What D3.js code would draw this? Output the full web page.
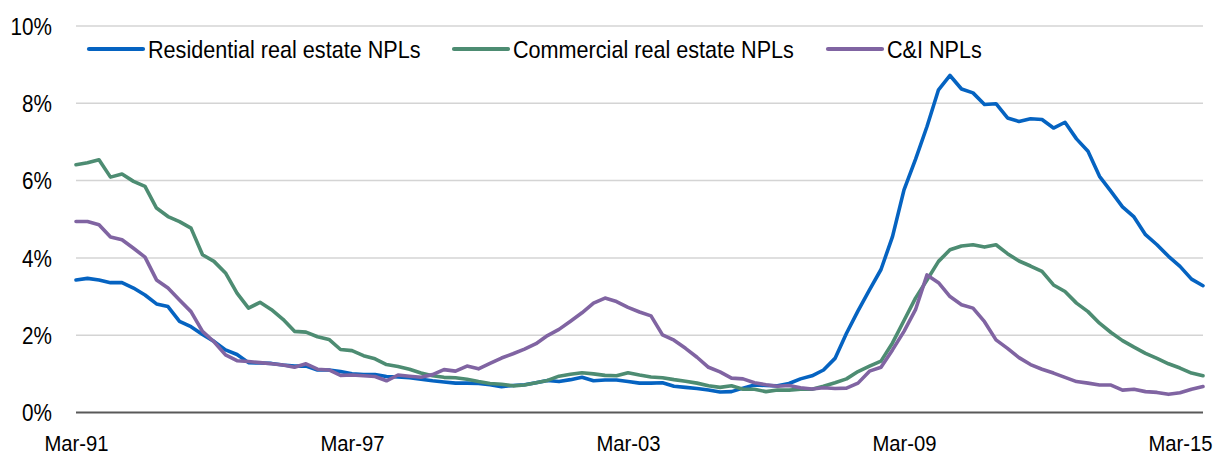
<!DOCTYPE html>
<html><head><meta charset="utf-8">
<script src="https://cdn.jsdelivr.net/npm/d3@7"></script>
<style>
body{margin:0;background:#fff}
svg{display:block}
text{font-family:"Liberation Sans",Arial,sans-serif;fill:#000}
</style>
</head><body><svg id="chart" width="1218" height="456"></svg>
<script>
// Quarterly categories Mar-91 .. Sep-15
const months = ["Mar","Jun","Sep","Dec"];
const quarters = [];
for (let yr = 1991; yr <= 2015; yr++) {
  for (const m of months) {
    if (yr === 2015 && m === "Dec") break;
    quarters.push(m + "-" + String(yr % 100).padStart(2, "0"));
  }
}
const tickLabels = ["Mar-91","Mar-97","Mar-03","Mar-09","Mar-15"];
const yTicks = [0,2,4,6,8,10];
const seriesNames = ["Residential real estate NPLs","Commercial real estate NPLs","C&I NPLs"];
const seriesColors = ["#0563c1","#4d8c72","#8064a2"];

const residential = [3.43,3.47,3.43,3.36,3.36,3.22,3.04,2.81,2.74,2.36,
  2.22,2.02,1.84,1.62,1.50,1.29,1.28,1.27,1.23,1.20,
  1.20,1.10,1.10,1.06,1.00,0.98,0.98,0.93,0.92,0.90,
  0.86,0.82,0.79,0.76,0.76,0.75,0.72,0.67,0.70,0.72,
  0.77,0.83,0.80,0.85,0.91,0.82,0.84,0.84,0.80,0.76,
  0.76,0.77,0.68,0.65,0.62,0.58,0.53,0.54,0.63,0.71,
  0.70,0.69,0.75,0.87,0.95,1.10,1.40,2.05,2.63,3.17,
  3.70,4.55,5.76,6.55,7.40,8.35,8.72,8.37,8.27,7.97,
  7.99,7.62,7.53,7.60,7.58,7.36,7.51,7.08,6.76,6.11,
  5.72,5.32,5.06,4.60,4.34,4.04,3.78,3.45,3.28];

const commercial = [6.41,6.46,6.54,6.09,6.17,5.98,5.85,5.29,5.07,4.94,
  4.77,4.08,3.91,3.61,3.09,2.70,2.85,2.66,2.41,2.10,
  2.08,1.96,1.89,1.63,1.60,1.47,1.39,1.24,1.19,1.12,
  1.02,0.95,0.91,0.90,0.86,0.80,0.75,0.73,0.69,0.71,
  0.77,0.83,0.94,0.99,1.03,1.00,0.96,0.95,1.03,0.97,
  0.92,0.90,0.85,0.81,0.76,0.69,0.65,0.69,0.60,0.60,
  0.54,0.58,0.58,0.60,0.60,0.68,0.77,0.87,1.06,1.20,
  1.33,1.80,2.38,2.96,3.43,3.91,4.21,4.31,4.34,4.28,
  4.34,4.11,3.92,3.79,3.65,3.30,3.13,2.83,2.61,2.31,
  2.07,1.86,1.69,1.53,1.40,1.26,1.15,1.02,0.95];

const cni = [4.94,4.94,4.86,4.54,4.47,4.25,4.02,3.43,3.22,2.91,
  2.61,2.10,1.83,1.49,1.34,1.32,1.29,1.26,1.23,1.17,
  1.26,1.12,1.10,0.96,0.97,0.95,0.93,0.82,0.97,0.94,
  0.91,0.98,1.11,1.07,1.20,1.13,1.27,1.41,1.52,1.64,
  1.78,1.99,2.15,2.36,2.58,2.83,2.96,2.87,2.72,2.60,
  2.50,2.01,1.87,1.66,1.43,1.17,1.05,0.89,0.87,0.77,
  0.72,0.68,0.70,0.64,0.61,0.64,0.62,0.63,0.76,1.07,
  1.17,1.62,2.10,2.66,3.56,3.36,3.00,2.79,2.70,2.35,
  1.88,1.66,1.42,1.24,1.12,1.02,0.91,0.80,0.76,0.71,
  0.71,0.58,0.60,0.54,0.52,0.47,0.51,0.60,0.67];

const seriesData = [residential, commercial, cni];

const svg = d3.select("#chart");
const x = d3.scalePoint().domain(quarters).range([76, 1203]);
const y = d3.scaleLinear().domain([0, 10]).range([412.5, 26]);
const SX = 0.9;

// gridlines
svg.append("g").selectAll("line")
  .data(yTicks.filter(d => d > 0))
  .join("line")
  .attr("x1", 76).attr("x2", 1203)
  .attr("y1", d => y(d)).attr("y2", d => y(d))
  .attr("stroke", "#d4d4d4").attr("stroke-width", 1.5);

// y axis labels
const yAxis = svg.append("g").attr("transform", "translate(52,0)")
  .call(d3.axisLeft(y).tickValues(yTicks).tickSize(0).tickPadding(0).tickFormat(d => d + "%"));
yAxis.select(".domain").remove();
yAxis.selectAll("text")
  .attr("x", 0).attr("dy", "0.36em")
  .attr("font-size", 23)
  .attr("font-family", '"Liberation Sans",Arial,sans-serif')
  .attr("fill", "#000")
  .attr("transform", `scale(${SX},1)`);

// x axis labels
const xAxis = svg.append("g").attr("transform", `translate(0,${y(0)})`)
  .call(d3.axisBottom(x).tickValues(tickLabels).tickSize(0).tickPadding(0));
xAxis.select(".domain").remove();
xAxis.selectAll("text")
  .attr("y", 38.5).attr("dy", 0)
  .attr("font-size", 22.5)
  .attr("font-family", '"Liberation Sans",Arial,sans-serif')
  .attr("fill", "#000")
  .attr("transform", `scale(${SX},1)`);

// lines
const line = d3.line().x((d, i) => x(quarters[i])).y(d => y(d));
svg.append("g").selectAll("path")
  .data(seriesData)
  .join("path")
  .attr("d", d => line(d))
  .attr("fill", "none")
  .attr("stroke", (d, i) => seriesColors[i])
  .attr("stroke-width", 3.6)
  .attr("stroke-linejoin", "round")
  .attr("stroke-linecap", "round");

// zero axis line
svg.append("line")
  .attr("x1", 76).attr("x2", 1203)
  .attr("y1", y(0)).attr("y2", y(0))
  .attr("stroke", "#595959").attr("stroke-width", 2);

// legend
const legendX = [89, 454, 828];
const legend = svg.append("g").selectAll("g")
  .data(seriesNames)
  .join("g")
  .attr("transform", (d, i) => `translate(${legendX[i]},49)`);
legend.append("line")
  .attr("x1", 0).attr("x2", 54).attr("y1", 0).attr("y2", 0)
  .attr("stroke", (d, i) => seriesColors[i])
  .attr("stroke-width", 4.2)
  .attr("stroke-linecap", "round");
legend.append("text")
  .attr("x", 59 / SX).attr("y", 8.5)
  .attr("font-size", 24)
  .attr("transform", `scale(${SX},1)`)
  .text(d => d);
</script>
</body></html>
